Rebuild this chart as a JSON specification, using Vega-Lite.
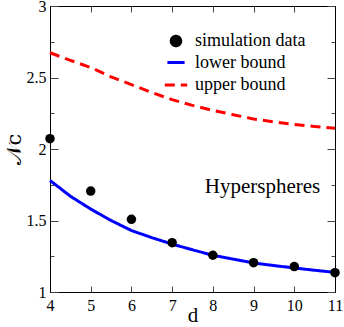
{
  "$schema": "https://vega.github.io/schema/vega-lite/v6.json",
  "width": 285,
  "height": 286,
  "autosize": {"type": "none"},
  "padding": {"left": 50, "top": 6, "right": 9, "bottom": 35},
  "config": {
    "view": {"stroke": "#000", "strokeWidth": 1},
    "font": "Liberation Serif",
    "axis": {"labelFont": "Liberation Serif", "titleFont": "Liberation Serif", "labelFontSize": 16, "titleFontSize": 21, "titleFontWeight": "normal", "domainColor": "#000", "tickColor": "#444", "labelColor": "#000", "grid": false}
  },
  "datasets": {
    "curves": [
      {"d": 4, "v": 1.78, "series": "lower bound"},
      {"d": 4.5, "v": 1.67, "series": "lower bound"},
      {"d": 5, "v": 1.58, "series": "lower bound"},
      {"d": 5.5, "v": 1.5, "series": "lower bound"},
      {"d": 6, "v": 1.43, "series": "lower bound"},
      {"d": 6.5, "v": 1.38, "series": "lower bound"},
      {"d": 7, "v": 1.335, "series": "lower bound"},
      {"d": 7.5, "v": 1.295, "series": "lower bound"},
      {"d": 8, "v": 1.257, "series": "lower bound"},
      {"d": 8.5, "v": 1.23, "series": "lower bound"},
      {"d": 9, "v": 1.203, "series": "lower bound"},
      {"d": 9.5, "v": 1.185, "series": "lower bound"},
      {"d": 10, "v": 1.168, "series": "lower bound"},
      {"d": 10.5, "v": 1.152, "series": "lower bound"},
      {"d": 11, "v": 1.137, "series": "lower bound"},
      {"d": 4, "v": 2.673, "series": "upper bound"},
      {"d": 4.5, "v": 2.62, "series": "upper bound"},
      {"d": 5, "v": 2.57, "series": "upper bound"},
      {"d": 5.5, "v": 2.505, "series": "upper bound"},
      {"d": 6, "v": 2.45, "series": "upper bound"},
      {"d": 6.5, "v": 2.395, "series": "upper bound"},
      {"d": 7, "v": 2.345, "series": "upper bound"},
      {"d": 7.5, "v": 2.305, "series": "upper bound"},
      {"d": 8, "v": 2.27, "series": "upper bound"},
      {"d": 8.5, "v": 2.24, "series": "upper bound"},
      {"d": 9, "v": 2.21, "series": "upper bound"},
      {"d": 9.5, "v": 2.19, "series": "upper bound"},
      {"d": 10, "v": 2.172, "series": "upper bound"},
      {"d": 10.5, "v": 2.158, "series": "upper bound"},
      {"d": 11, "v": 2.145, "series": "upper bound"}
    ],
    "sim": [
      {"d": 4, "v": 2.072, "series": "simulation data"},
      {"d": 5, "v": 1.706, "series": "simulation data"},
      {"d": 6, "v": 1.508, "series": "simulation data"},
      {"d": 7, "v": 1.345, "series": "simulation data"},
      {"d": 8, "v": 1.257, "series": "simulation data"},
      {"d": 9, "v": 1.205, "series": "simulation data"},
      {"d": 10, "v": 1.178, "series": "simulation data"},
      {"d": 11, "v": 1.135, "series": "simulation data"}
    ]
  },
  "layer": [
    {
      "data": {"name": "curves"},
      "mark": {"type": "line", "strokeWidth": 3, "clip": false},
      "encoding": {
        "x": {"field": "d", "type": "quantitative", "scale": {"domain": [4, 11], "nice": false, "zero": false},
          "axis": {"title": "d", "values": [4, 5, 6, 7, 8, 9, 10, 11], "tickSize": -6, "labelPadding": 11, "titlePadding": -9, "labelFlush": false,
            "encode": {"labels": {"update": {"font": {"value": "Liberation Serif"}}}}}},
        "y": {"field": "v", "type": "quantitative", "scale": {"domain": [1, 3], "nice": false, "zero": false},
          "axis": {"title": "𝒩c", "titleFont": "DejaVu Serif", "values": [1, 1.25, 1.5, 1.75, 2, 2.25, 2.5, 2.75, 3],
            "labelExpr": "datum.value % 0.5 === 0 ? format(datum.value, '~g') : ''",
            "labelFlush": false,
            "encode": {"labels": {"update": {"font": {"value": "Liberation Serif"}}}},
            "tickSize": {"condition": {"test": "datum.value % 0.5 === 0", "value": -8}, "value": -4},
            "labelPadding": 12, "titlePadding": 2}},
        "color": {"field": "series", "type": "nominal",
          "scale": {"domain": ["simulation data", "lower bound", "upper bound"], "range": ["#000000", "#0000ff", "#ff0000"]},
          "legend": {"title": null, "orient": "none", "legendX": 113, "legendY": 26, "labelFontSize": 18, "labelFont": "Liberation Serif", "rowPadding": -6, "labelOffset": 6, "symbolStrokeWidth": 3}},
        "strokeDash": {"field": "series", "type": "nominal",
          "scale": {"domain": ["simulation data", "lower bound", "upper bound"], "range": [[1, 0], [1, 0], [10, 6]]}}
      }
    },
    {
      "data": {"name": "sim"},
      "mark": {"type": "point", "filled": true, "opacity": 1, "clip": false},
      "encoding": {
        "x": {"field": "d", "type": "quantitative", "axis": null},
        "y": {"field": "v", "type": "quantitative", "axis": null},
        "color": {"field": "series", "type": "nominal"},
        "shape": {"field": "series", "type": "nominal",
          "scale": {"domain": ["simulation data", "lower bound", "upper bound"], "range": ["circle", "stroke", "stroke"]}},
        "size": {"field": "series", "type": "nominal",
          "scale": {"domain": ["simulation data", "lower bound", "upper bound"], "range": [90, 500, 500]}}
      }
    },
    {
      "data": {"values": [{}]},
      "mark": {"type": "text", "fontSize": 21, "font": "Liberation Serif", "color": "#000"},
      "encoding": {
        "x": {"datum": 9.22, "type": "quantitative", "axis": null},
        "y": {"datum": 1.734, "type": "quantitative", "axis": null},
        "text": {"value": "Hyperspheres"}
      }
    },
    {
      "data": {"values": [{}]},
      "mark": {"type": "rule", "opacity": 0},
      "encoding": {
        "x": {"datum": 4, "type": "quantitative", "axis": {"orient": "top", "title": null, "labels": false, "values": [4, 5, 6, 7, 8, 9, 10, 11], "tickSize": -6}},
        "y": {"datum": 1, "type": "quantitative", "axis": {"orient": "right", "title": null, "labels": false, "values": [1, 1.25, 1.5, 1.75, 2, 2.25, 2.5, 2.75, 3],
          "tickSize": {"condition": {"test": "datum.value % 0.5 === 0", "value": -8}, "value": -4}}}
      }
    }
  ],
  "resolve": {"axis": {"x": "independent", "y": "independent"}}
}
